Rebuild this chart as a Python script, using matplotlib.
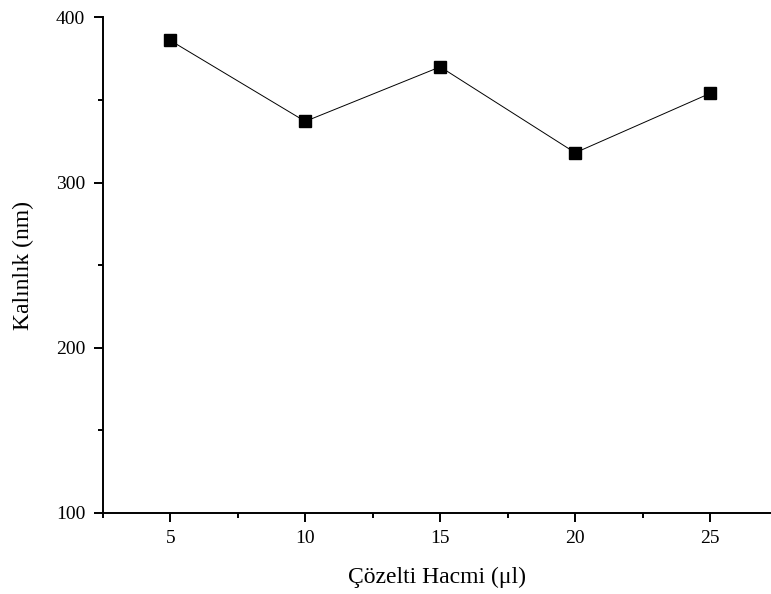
import matplotlib.pyplot as plt
from matplotlib.ticker import MultipleLocator

plt.rcParams['font.family'] = ['Liberation Serif', 'DejaVu Serif']

# veri
hacim = [5, 10, 15, 20, 25]
kalinlik = [386, 337, 370, 318, 354]

fig = plt.figure(figsize=(7.71, 5.94), dpi=100)
ax = fig.add_axes([0.1332, 0.1364, 0.8668, 0.8345])

ax.plot(hacim, kalinlik, color='black', lw=0.7, marker='s', ms=8.5)

ax.set_xlim(2.5, 27.25)
ax.set_ylim(100, 400)
ax.xaxis.set_major_locator(MultipleLocator(5))
ax.xaxis.set_minor_locator(MultipleLocator(2.5))
ax.yaxis.set_major_locator(MultipleLocator(100))
ax.yaxis.set_minor_locator(MultipleLocator(50))

ax.spines['top'].set_visible(False)
ax.spines['right'].set_visible(False)
ax.spines['left'].set_linewidth(1.4)
ax.spines['bottom'].set_linewidth(1.4)
ax.tick_params(which='major', direction='out', length=6.5, width=1.4, labelsize=14)
ax.tick_params(which='minor', direction='out', length=3.5, width=1.4)
ax.tick_params(axis='x', which='major', pad=6)
ax.tick_params(axis='y', which='major', pad=6)

ax.set_xlabel('Çözelti Hacmi (μl)', fontsize=17, labelpad=14)
ax.set_ylabel('Kalınlık (nm)', fontsize=17, labelpad=16)

fig.savefig('out.png', dpi=100)
